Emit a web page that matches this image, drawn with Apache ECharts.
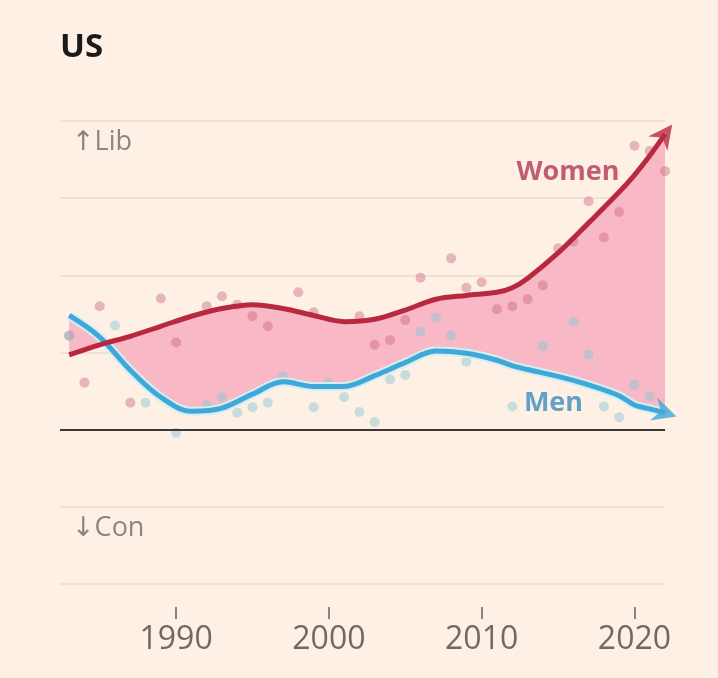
<!DOCTYPE html>
<html>
<head>
<meta charset="utf-8">
<script src="https://cdn.jsdelivr.net/npm/echarts@6/dist/echarts.min.js"></script>
<style>
html,body{margin:0;padding:0;background:#fef0e4;}
#main{width:718px;height:678px;}
</style>
</head>
<body>
<div id="main"></div>
<script>
// Trend lines (smoothed)
const trendYears = [1983,1985,1987,1989,1991,1993,1995,1997,1999,2001,2003,2005,2007,2009,2011,2012,2013,2015,2017,2019,2020,2021,2022];
const womenTrend = [0.97,1.10,1.21,1.34,1.47,1.57,1.62,1.57,1.48,1.40,1.43,1.55,1.69,1.74,1.78,1.84,1.96,2.29,2.68,3.08,3.30,3.55,3.83];
const menTrend   = [1.48,1.20,0.77,0.42,0.24,0.28,0.46,0.62,0.56,0.56,0.70,0.87,1.02,0.99,0.90,0.83,0.78,0.69,0.58,0.44,0.32,0.27,0.22];

// Survey points
const womenDotYears = [1983,1984,1985,1987,1989,1990,1992,1993,1994,1995,1996,1998,1999,2002,2003,2004,2005,2006,2008,2009,2010,2011,2012,2013,2014,2015,2016,2017,2018,2019,2020,2021,2022];
const womenDots     = [1.22,0.61,1.60,0.35,1.70,1.13,1.60,1.73,1.62,1.47,1.34,1.78,1.52,1.47,1.10,1.16,1.42,1.97,2.22,1.84,1.91,1.56,1.60,1.69,1.87,2.35,2.44,2.96,2.49,2.82,3.68,3.61,3.35];
const menDotYears = [1983,1986,1988,1990,1992,1993,1994,1995,1996,1997,1999,2000,2001,2002,2003,2004,2005,2006,2007,2008,2009,2012,2014,2016,2017,2018,2019,2020,2021];
const menDots     = [1.21,1.35,0.35,-0.04,0.32,0.42,0.22,0.29,0.35,0.69,0.29,0.61,0.42,0.23,0.10,0.65,0.71,1.27,1.45,1.22,0.88,0.30,1.08,1.40,0.97,0.30,0.16,0.58,0.43];

// Axis ticks / labels
const xTickValues = [1990, 2000, 2010, 2020];
const yLabelValues = [4, -1];
const yLabelTexts = ['↑Lib', '↓Con'];

// Series labels
const seriesNames = ['Women', 'Men'];
const seriesLabelPos = [[2015.65, 3.34], [2014.7, 0.34]];

const pairs = (xs, ys) => xs.map((x, i) => [x, ys[i]]);
// value-first rows so that stacking happens on the y dimension
const bandBase = trendYears.map((y, i) => [menTrend[i], y]);
const bandDiff = trendYears.map((y, i) => [+(womenTrend[i] - menTrend[i]).toFixed(3), y]);
const last = a => a[a.length - 1];

const RED = '#b8293f', BLUE = '#3fa8d6';
const arrowPath = 'path://M12,0 L24,22 L12,15 L0,22 Z';
const FONT = '"Open Sans", "DejaVu Sans", sans-serif';

const chart = echarts.init(document.getElementById('main'), null, {renderer: 'canvas'});
chart.setOption({
  backgroundColor: '#fef0e4',
  animation: false,
  title: {
    text: 'US', left: 60, top: 31, padding: 0,
    textStyle: {fontFamily: FONT, fontWeight: 'bold', fontSize: 33, color: '#1a1a1a'}
  },
  grid: {left: 60, right: 53, top: 121, bottom: 94},
  xAxis: {
    type: 'value', min: 1982.4, max: 2022,
    offset: 23,
    axisLine: {show: false, onZero: false},
    splitLine: {show: false},
    axisTick: {show: true, customValues: xTickValues, length: 12, lineStyle: {color: '#8a837e', width: 2}},
    axisLabel: {customValues: xTickValues, margin: 17, fontFamily: FONT, fontSize: 32, color: '#6f6a66',
      formatter: v => String(v)}
  },
  yAxis: {
    type: 'value', min: -2, max: 4, interval: 1,
    axisLine: {show: false}, axisTick: {show: false},
    splitLine: {show: true, lineStyle: {color: '#ebddd0', width: 1.5}},
    axisLabel: {
      inside: true, margin: 12, verticalAlign: 'top', padding: [8, 0, 0, 0],
      fontFamily: FONT, fontSize: 27, color: '#8c8682',
      formatter: v => { const i = yLabelValues.indexOf(v); return i >= 0 ? yLabelTexts[i] : ''; }
    }
  },
  series: [
    {
      type: 'line', stack: 'band', stackStrategy: 'all', smooth: 0.35,
      encode: {x: 1, y: 0},
      data: bandBase, showSymbol: false, silent: true,
      lineStyle: {opacity: 0}, z: 1,
      markLine: {
        silent: true, symbol: 'none', label: {show: false},
        lineStyle: {color: '#3d3834', width: 2, type: 'solid'},
        data: [{yAxis: 0}]
      }
    },
    {
      type: 'line', stack: 'band', stackStrategy: 'all', smooth: 0.35,
      encode: {x: 1, y: 0},
      data: bandDiff, showSymbol: false, silent: true,
      lineStyle: {opacity: 0},
      areaStyle: {color: '#f8b8c6', opacity: 1}, z: 1
    },
    {
      type: 'scatter', data: pairs(womenDotYears, womenDots), symbolSize: 10,
      itemStyle: {color: 'rgba(201,104,128,0.55)'}, z: 2
    },
    {
      type: 'scatter', data: pairs(menDotYears, menDots), symbolSize: 10,
      itemStyle: {color: 'rgba(138,199,214,0.6)'}, z: 2
    },
    {
      type: 'line', smooth: 0.35, data: pairs(trendYears, menTrend), showSymbol: false,
      lineStyle: {color: '#d3eef4', width: 9}, z: 3
    },
    {
      type: 'line', smooth: 0.35, data: pairs(trendYears, menTrend), showSymbol: false,
      lineStyle: {color: BLUE, width: 5}, z: 4
    },
    {
      type: 'line', smooth: 0.35, data: pairs(trendYears, womenTrend), showSymbol: false,
      lineStyle: {color: RED, width: 5}, z: 4
    },
    {
      type: 'scatter', z: 5, symbol: arrowPath, symbolSize: [24, 24],
      data: [
        {value: [last(trendYears), last(womenTrend)], symbolRotate: -37, itemStyle: {color: RED}},
        {value: [last(trendYears), last(menTrend)], symbolRotate: -108, itemStyle: {color: BLUE}}
      ]
    },
    {
      type: 'scatter', z: 6, symbolSize: 0,
      data: seriesLabelPos.map((p, i) => ({
        value: p,
        label: {
          show: true, position: 'inside', formatter: seriesNames[i],
          fontFamily: FONT, fontWeight: 'bold', fontSize: 27,
          color: i === 0 ? '#b33753' : '#3a8dc2'
        }
      }))
    }
  ]
});
</script>
</body>
</html>
